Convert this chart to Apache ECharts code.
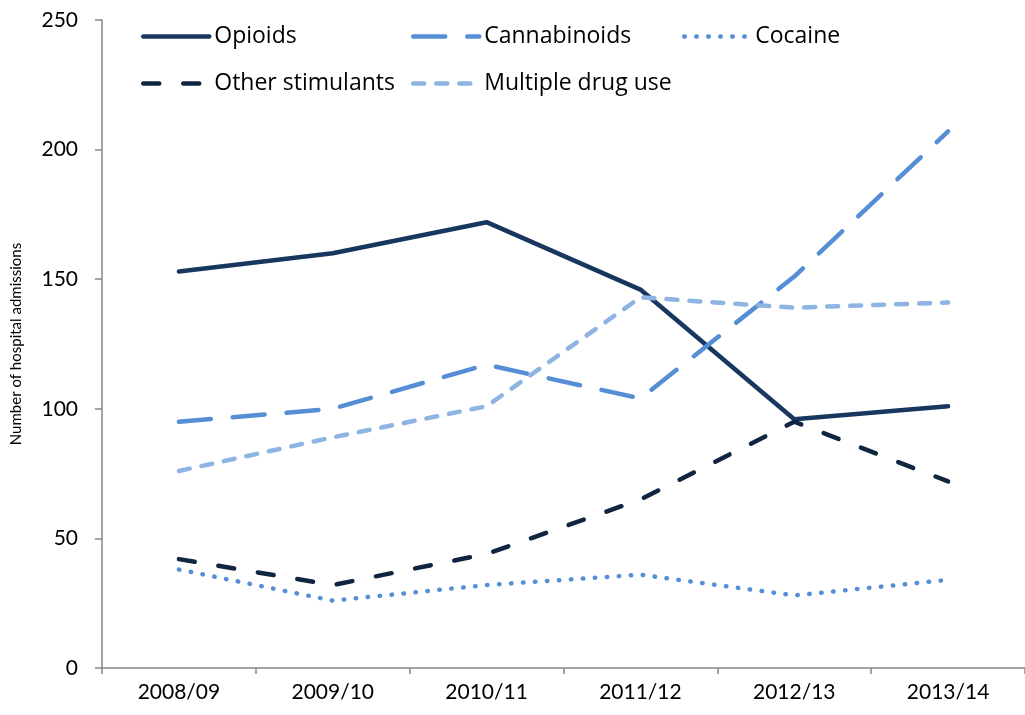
<!DOCTYPE html>
<html>
<head>
<meta charset="utf-8">
<script src="https://cdn.jsdelivr.net/npm/echarts@6/dist/echarts.min.js"></script>
<style>
html,body{margin:0;padding:0;background:#fff;}
#chart{width:1025px;height:715px;}
</style>
</head>
<body>
<div id="chart"></div>
<script>
const categories = ['2008/09','2009/10','2010/11','2011/12','2012/13','2013/14'];
const opioids = [153, 160, 172, 146, 96, 101];
const cannabinoids = [95, 100, 117, 104, 151, 207];
const cocaine = [38, 26, 32, 36, 28, 34];
const otherStimulants = [42, 32, 44, 65, 95, 72];
const multipleDrugUse = [76, 89, 101, 143, 139, 141];
const yTicks = [0, 50, 100, 150, 200, 250];

const FONT = 'Lato, "Open Sans", sans-serif';
const LFONT = '"Open Sans", Lato, sans-serif';
const chart = echarts.init(document.getElementById('chart'), null, {renderer: 'canvas'});

const styles = {
  'Opioids': {color: '#17375E', width: 4.5, type: 'solid'},
  'Cannabinoids': {color: '#558ED5', width: 4.5, type: [32, 22]},
  'Cocaine': {color: '#558ED5', width: 4.5, type: [0.5, 11.5]},
  'Other stimulants': {color: '#10253F', width: 4.5, type: [16, 24]},
  'Multiple drug use': {color: '#8EB4E3', width: 4.5, type: [11, 12]}
};

function mkSeries(name, data) {
  const s = styles[name];
  return {
    name: name, type: 'line', data: data, symbol: 'none', smooth: false,
    lineStyle: {color: s.color, width: s.width, type: s.type, cap: 'round', join: 'round'},
    itemStyle: {color: s.color},
    emphasis: {disabled: true},
    animation: false
  };
}

function mkLegend(name, left, top) {
  const s = styles[name];
  return {
    data: [{name: name, itemStyle: {opacity: 0}}],
    left: left, top: top, itemWidth: 66, itemHeight: 14, itemGap: 0,
    lineStyle: {color: s.color, width: s.width, type: s.type, cap: 'round', opacity: 1},
    itemStyle: {opacity: 0},
    textStyle: {fontFamily: LFONT, fontSize: 23, color: '#000'},
    selectedMode: false
  };
}

chart.setOption({
  backgroundColor: '#fff',
  animation: false,
  grid: {left: 102, top: 20, width: 928, height: 648, containLabel: false},
  legend: [
    mkLegend('Opioids', 136, 20),
    mkLegend('Cannabinoids', 406, 20),
    mkLegend('Cocaine', 677, 20),
    mkLegend('Other stimulants', 136, 67),
    mkLegend('Multiple drug use', 406, 67)
  ],
  xAxis: {
    type: 'category', data: categories, boundaryGap: true,
    axisLine: {show: true, lineStyle: {color: '#868686', width: 1.5}},
    axisTick: {show: true, length: 6, inside: false, lineStyle: {color: '#868686', width: 1.5}},
    axisLabel: {fontFamily: FONT, fontSize: 21, color: '#000', margin: 14},
    splitLine: {show: false}
  },
  yAxis: {
    type: 'value', min: 0, max: 250, interval: 50,
    name: 'Number of hospital admissions', nameLocation: 'middle', nameGap: 78,
    nameTextStyle: {fontFamily: FONT, fontSize: 15, color: '#000'},
    axisLine: {show: true, lineStyle: {color: '#868686', width: 1.5}},
    axisTick: {show: true, length: 7, lineStyle: {color: '#868686', width: 1.5}},
    axisLabel: {fontFamily: FONT, fontSize: 21, color: '#000', margin: 24,
      formatter: v => yTicks.includes(v) ? String(v) : ''},
    splitLine: {show: false}
  },
  series: [
    mkSeries('Opioids', opioids),
    mkSeries('Cannabinoids', cannabinoids),
    mkSeries('Cocaine', cocaine),
    mkSeries('Other stimulants', otherStimulants),
    mkSeries('Multiple drug use', multipleDrugUse)
  ]
});
</script>
</body>
</html>
